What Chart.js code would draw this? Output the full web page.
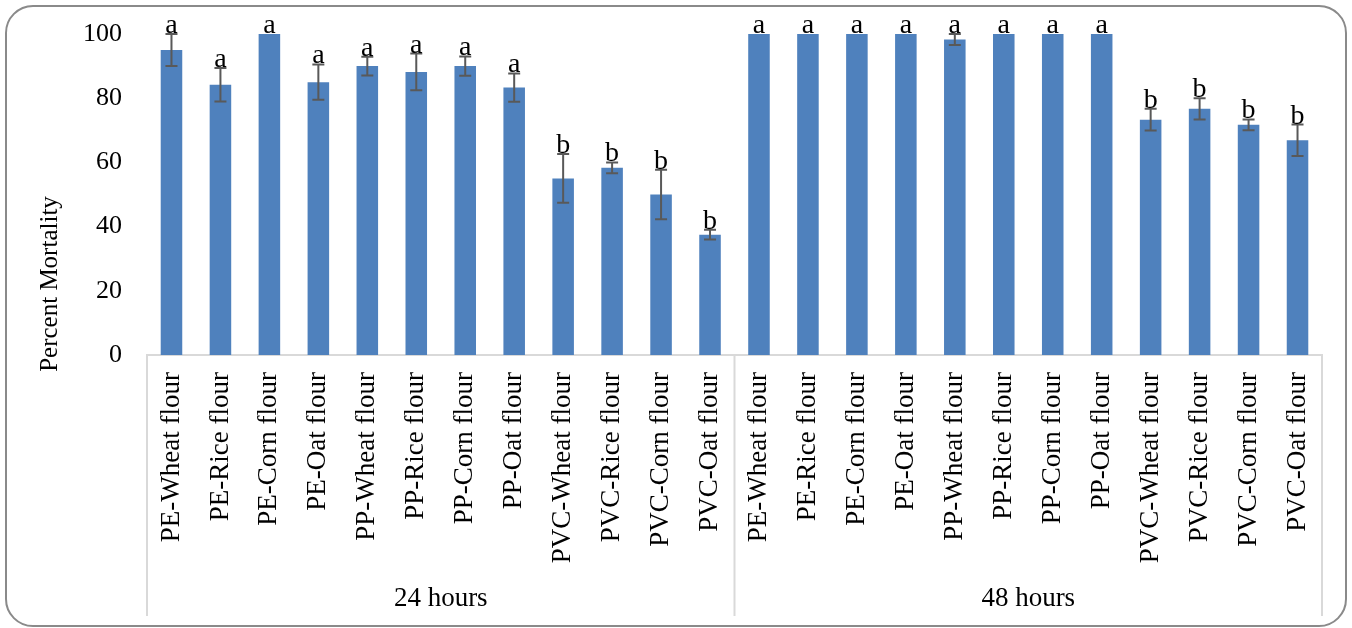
<!DOCTYPE html>
<html>
<head>
<meta charset="utf-8">
<script src="https://cdn.jsdelivr.net/npm/chart.js@4.4.1/dist/chart.umd.min.js"></script>
<style>
  html, body { margin: 0; padding: 0; background: #ffffff; }
  #wrap { position: relative; width: 1352px; height: 628px; overflow: hidden; }
  #frame {
    position: absolute; left: 5px; top: 5px; width: 1342px; height: 622px;
    box-sizing: border-box; border: 2px solid #8a8a8a; border-radius: 28px;
    pointer-events: none;
  }
  canvas { position: absolute; left: 0; top: 0; }
</style>
</head>
<body>
<div id="wrap">
  <canvas id="chart" width="1352" height="628"></canvas>
  <div id="frame"></div>
</div>
<script>
// Exposure periods (outer category level) and flour / plastic treatments (inner level)
const periods = ['24 hours', '48 hours'];
const treatments = [
  'PE-Wheat flour', 'PE-Rice flour', 'PE-Corn flour', 'PE-Oat flour',
  'PP-Wheat flour', 'PP-Rice flour', 'PP-Corn flour', 'PP-Oat flour',
  'PVC-Wheat flour', 'PVC-Rice flour', 'PVC-Corn flour', 'PVC-Oat flour'
];

// Mean percent mortality and its error (±) for each treatment
const mortality24 = [95, 84.2, 100, 85, 90, 88.2, 90, 83.3, 55, 58.3, 50, 37.5];
const error24     = [5, 5.2, 0, 5.5, 2.9, 5.7, 3, 4.4, 7.6, 1.7, 7.7, 1.5];
const mortality48 = [100, 100, 100, 100, 98.3, 100, 100, 100, 73.3, 76.7, 71.7, 66.9];
const error48     = [0, 0, 0, 0, 1.7, 0, 0, 0, 3.4, 3.3, 1.7, 4.9];

// Significance groups shown above each bar
const letters24 = ['a', 'a', 'a', 'a', 'a', 'a', 'a', 'a', 'b', 'b', 'b', 'b'];
const letters48 = ['a', 'a', 'a', 'a', 'a', 'a', 'a', 'a', 'b', 'b', 'b', 'b'];

// Y axis ticks
const yTicks = [0, 20, 40, 60, 80, 100];
const yTitle = 'Percent Mortality';

const labels = periods.flatMap(() => treatments);
const values = mortality24.concat(mortality48);
const errors = error24.concat(error48);
const letters = letters24.concat(letters48);

const SERIF = '"Liberation Serif", "Times New Roman", serif';

// Error bars and significance letters, positioned with the y scale
const errorBarPlugin = {
  id: 'errorBars',
  afterDatasetsDraw(chart) {
    const { ctx, scales: { y } } = chart;
    const meta = chart.getDatasetMeta(0);
    ctx.save();
    meta.data.forEach((bar, i) => {
      const v = values[i];
      const e = errors[i];
      const x = bar.x;
      let top = y.getPixelForValue(v);
      if (e > 0) {
        const yHi = y.getPixelForValue(v + e);
        const yLo = y.getPixelForValue(v - e);
        ctx.strokeStyle = '#595959';
        ctx.lineWidth = 2;
        ctx.beginPath();
        ctx.moveTo(x, yHi); ctx.lineTo(x, yLo);
        ctx.moveTo(x - 6, yHi); ctx.lineTo(x + 6, yHi);
        ctx.moveTo(x - 6, yLo); ctx.lineTo(x + 6, yLo);
        ctx.stroke();
        top = yHi;
      }
      ctx.fillStyle = '#000000';
      ctx.font = '28px ' + SERIF;
      ctx.textAlign = 'center';
      ctx.textBaseline = 'alphabetic';
      ctx.fillText(letters[i], x, top - 1);
    });
    ctx.restore();
  }
};

// Group separators of the two-level category axis and the y axis title
const axisDecor = {
  id: 'axisDecor',
  afterDraw(chart) {
    const { ctx, chartArea, scales: { x } } = chart;
    const n = labels.length;
    const per = treatments.length;
    const bounds = [];
    for (let g = 0; g <= periods.length; g++) {
      const k = g * per;
      let px;
      if (k === 0) px = chartArea.left;
      else if (k === n) px = chartArea.right;
      else px = (x.getPixelForValue(k - 1) + x.getPixelForValue(k)) / 2;
      bounds.push(px);
    }
    ctx.save();
    ctx.strokeStyle = '#d9d9d9';
    ctx.lineWidth = 2;
    ctx.beginPath();
    bounds.forEach(px => {
      ctx.moveTo(px, chartArea.bottom);
      ctx.lineTo(px, 616);
    });
    ctx.stroke();

    ctx.fillStyle = '#000000';
    ctx.font = '25px ' + SERIF;
    ctx.textAlign = 'center';
    ctx.textBaseline = 'middle';
    ctx.translate(50, 284);
    ctx.rotate(-Math.PI / 2);
    ctx.fillText(yTitle, 0, 0);
    ctx.restore();
  }
};

new Chart(document.getElementById('chart'), {
  type: 'bar',
  data: {
    labels: labels,
    datasets: [{
      data: values,
      backgroundColor: '#4f81bd',
      borderWidth: 0,
      barPercentage: 0.44,
      categoryPercentage: 1.0,
      xAxisID: 'x'
    }]
  },
  options: {
    responsive: false,
    animation: false,
    events: [],
    layout: { padding: { left: 0, right: 30, top: 34, bottom: 3 } },
    plugins: { legend: { display: false }, tooltip: { enabled: false } },
    scales: {
      x: {
        type: 'category',
        position: 'bottom',
        grid: { display: false, drawTicks: false },
        border: { display: true, color: '#d9d9d9', width: 2 },
        ticks: {
          autoSkip: false, minRotation: 90, maxRotation: 90,
          padding: 17, color: '#000000',
          font: { family: SERIF, size: 27 }
        },
        afterFit(s) { s.height = 220; }
      },
      x2: {
        type: 'category',
        position: 'bottom',
        labels: periods,
        grid: { display: false, drawTicks: false },
        border: { display: false },
        ticks: {
          autoSkip: false, maxRotation: 0, minRotation: 0,
          padding: 8, color: '#000000',
          font: { family: SERIF, size: 27 }
        },
        afterFit(s) { s.height = 50; }
      },
      y: {
        min: 0, max: 100,
        grid: { display: false, drawTicks: false },
        border: { display: false },
        afterBuildTicks(s) { s.ticks = yTicks.map(v => ({ value: v })); },
        ticks: {
          padding: 25, color: '#000000',
          font: { family: SERIF, size: 26 }
        },
        afterFit(s) {
          s.width = 147;
          s.paddingTop = 16;
          s.paddingBottom = 16;
        }
      }
    }
  },
  plugins: [errorBarPlugin, axisDecor]
});
</script>
</body>
</html>
